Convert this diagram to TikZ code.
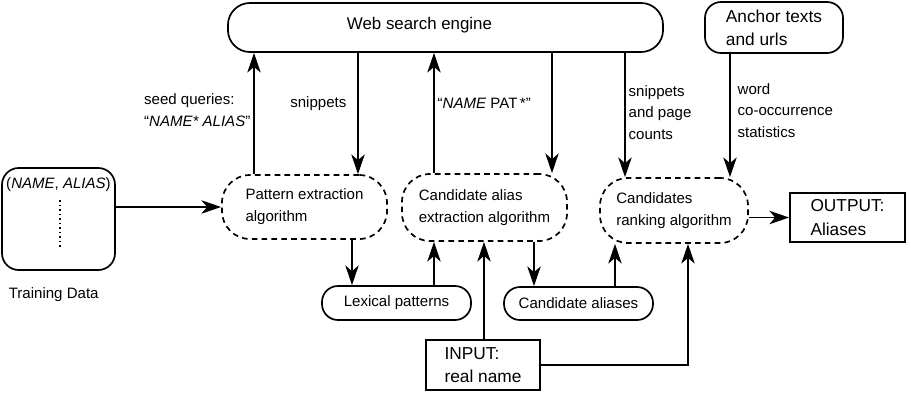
\documentclass[tikz,border=0pt]{standalone}
\usepackage{fontspec}
\setmainfont{Liberation Sans}
\usepackage{tikz}
\usetikzlibrary{calc,positioning,arrows.meta}

\tikzset{
  txt/.style={font=\fontsize{10.7}{15.5}\selectfont},
  bigtxt/.style={font=\fontsize{12.3}{16.5}\selectfont},
  algo/.style={draw, line width=1.2pt, dash pattern=on 4pt off 3pt,
    rounded corners=0.7cm, align=left, txt},
  store/.style={draw, line width=1.2pt, align=left},
  iobox/.style={draw, line width=1.2pt, align=left, bigtxt, inner xsep=0pt},
  lbl/.style={txt, align=left, inner sep=2pt},
  arr/.style={-{Stealth[length=14pt,width=9.5pt,inset=4pt]}, line width=1.2pt}
}

\begin{document}
\begin{tikzpicture}[x=0.025cm,y=-0.025cm]
\useasboundingbox (0,0) rectangle (910,416);

% sources
\node[store, rounded corners=0.55cm, minimum width=10.875cm, minimum height=1.225cm] (wse) at (445.5,27.5) {};
\node[font=\fontsize{12}{15}\selectfont] (wsetxt) at ($(wse)+(-26,-2)$) {Web search engine};
\node[store, bigtxt, rounded corners=0.4cm, minimum width=3.45cm, minimum height=1.275cm] (anchor) at (774,27.5) {Anchor texts\\and urls};
\node[store, rounded corners=0.42cm, minimum width=2.825cm, minimum height=2.55cm] (train) at (58.5,219) {};
\node[txt, inner sep=0pt] (pair) at ($(train.north)+(0,17)$) {(\textit{NAME}, \textit{ALIAS})};
\draw[dotted, line width=1.2pt] ($(train)+(1.5,-19)$) -- ($(train)+(1.5,30)$);
\node[txt, below=0.3cm of train, xshift=-0.12cm] (traintxt) {Training Data};

% algorithms
\node[algo, minimum width=4.125cm, minimum height=1.6cm] (pat) at (304.5,207) {Pattern extraction\\algorithm};
\node[algo, minimum width=4.125cm, minimum height=1.675cm] (cae) at (484.5,207.5) {Candidate alias\\extraction algorithm};
\node[algo, minimum width=3.7cm, minimum height=1.625cm] (rank) at (674,210.5) {Candidates\\ranking algorithm};

% results
\node[store, txt, rounded corners=0.4cm, minimum width=3.725cm, minimum height=0.85cm] (lex) at (396.5,303) {Lexical patterns};
\node[store, txt, rounded corners=0.4cm, minimum width=3.725cm, minimum height=0.825cm] (cal) at (578.5,303.5) {Candidate aliases};
\node[iobox, minimum width=2.875cm, minimum height=1.225cm] (out) at (847.5,217.5) {OUTPUT:\\Aliases};
\node[iobox, minimum width=2.85cm, minimum height=1.25cm] (inp) at (483,365) {INPUT:\\real name};

% columns of the vertical arrows
\foreach \n/\x in {ca/254,cb/358,cc/434,cd/552,ce/625,cf/730,cg/352,ch/484,ci/534,cj/615,ck/688}
  \coordinate (\n) at (\x,0);

\draw[arr] (train.east |- pat.west) -- (pat.west);
\draw[arr] (ca |- pat.north) -- (ca |- wse.south)
  node[lbl, pos=0.53, left] {seed queries:\\“\textit{NAME* ALIAS}”};
\draw[arr] (cb |- wse.south) -- (cb |- pat.north)
  node[lbl, pos=0.42, left, xshift=-0.2cm] {snippets};
\draw[arr] (cc |- cae.north) -- (cc |- wse.south)
  node[lbl, pos=0.58, right] {“\textit{NAME} PAT\,*”};
\draw[arr] (cd |- wse.south) -- (cd |- cae.north);
\draw[arr] (ce |- wse.south) -- (ce |- rank.north)
  node[lbl, pos=0.48, right] {snippets\\and page\\counts};
\draw[arr] (cf |- anchor.south) -- (cf |- rank.north)
  node[lbl, pos=0.46, right, xshift=0.1cm] {word\\co-occurrence\\statistics};
\draw[arr] (rank.east |- out.west) -- (out.west);
\draw[arr] (cg |- pat.south) -- (cg |- lex.north);
\draw[arr] (cc |- lex.north) -- (cc |- cae.south);
\draw[arr] (ch |- inp.north) -- (ch |- cae.south);
\draw[arr] (ci |- cae.south) -- (ci |- cal.north);
\draw[arr] (cj |- cal.north) -- (cj |- rank.south);
\draw[arr] (inp.east) -| (ck |- rank.south);
\end{tikzpicture}
\end{document}
